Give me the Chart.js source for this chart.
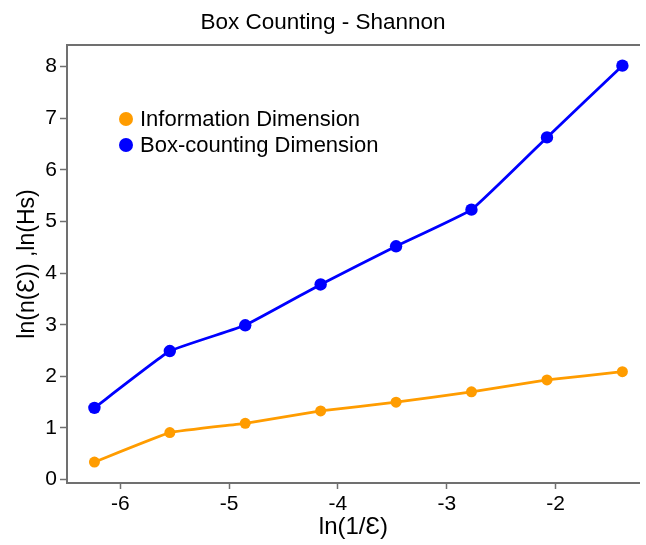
<!DOCTYPE html>
<html>
<head>
<meta charset="utf-8">
<script src="https://cdn.jsdelivr.net/npm/chart.js@4.4.1/dist/chart.umd.min.js"></script>
<style>
  html, body { margin: 0; padding: 0; background: #fff; }
  #wrap { width: 646px; height: 545px; position: relative; }
</style>
</head>
<body>
<div id="wrap"><canvas id="c"></canvas></div>
<script>
// ---- data ----
const lnInvEps = [-6.238, -5.545, -4.852, -4.159, -3.466, -2.773, -2.079, -1.386];
const informationDim = [0.34, 0.91, 1.09, 1.33, 1.50, 1.70, 1.93, 2.09];
const boxCountingDim = [1.39, 2.49, 2.99, 3.78, 4.52, 5.23, 6.63, 8.02];
const xTickValues = [-6, -5, -4, -3, -2];
const yTickValues = [0, 1, 2, 3, 4, 5, 6, 7, 8];
const seriesLabels = ['Information Dimension', 'Box-counting Dimension'];
const chartTitle = 'Box Counting - Shannon';
const xTitle = 'ln(1/Ɛ)';
const yTitle = 'ln(n(Ɛ)) ,ln(Hs)';

const FONT = "'Liberation Sans', Arial, Helvetica, sans-serif";
const AXIS_COLOR = '#707070';
const ORANGE = '#ff9c00';
const BLUE = '#0000ff';

const X_MIN = -6.49, X_MAX = -1.226;
const Y_MIN = -0.066, Y_MAX = 8.42;

const toPts = (ys) => ys.map((y, i) => ({ x: lnInvEps[i], y }));

// legend drawn inside the plot area (top-left)
const insideLegend = {
  id: 'insideLegend',
  afterDatasetsDraw(chart) {
    const { ctx, chartArea } = chart;
    const x0 = chartArea.left + 59;
    let y = chartArea.top + 74;
    ctx.save();
    ctx.font = '22px ' + FONT;
    ctx.textBaseline = 'middle';
    ctx.textAlign = 'left';
    chart.data.datasets.forEach(ds => {
      ctx.beginPath();
      ctx.fillStyle = ds.pointBackgroundColor;
      ctx.arc(x0, y, 7, 0, Math.PI * 2);
      ctx.fill();
      ctx.fillStyle = '#000';
      ctx.fillText(ds.label, x0 + 14, y + 1);
      y += 26;
    });
    ctx.restore();
  }
};

new Chart(document.getElementById('c'), {
  type: 'line',
  data: {
    datasets: [
      {
        label: seriesLabels[0],
        data: toPts(informationDim),
        borderColor: ORANGE,
        backgroundColor: ORANGE,
        pointBackgroundColor: ORANGE,
        pointBorderWidth: 0,
        pointRadius: 5.5,
        borderWidth: 2.8,
        tension: 0.1,
        fill: false
      },
      {
        label: seriesLabels[1],
        data: toPts(boxCountingDim),
        borderColor: BLUE,
        backgroundColor: BLUE,
        pointBackgroundColor: BLUE,
        pointBorderWidth: 0,
        pointRadius: 6.2,
        borderWidth: 2.8,
        tension: 0.1,
        fill: false
      }
    ]
  },
  options: {
    responsive: true,
    maintainAspectRatio: false,
    devicePixelRatio: 1,
    animation: false,
    layout: { padding: 0 },
    plugins: {
      legend: { display: false },
      tooltip: { enabled: false },
      title: {
        display: true,
        text: chartTitle,
        color: '#000',
        font: { family: FONT, size: 22.5, weight: 'normal', lineHeight: 1 },
        padding: { top: 12, bottom: 10.5 }
      }
    },
    scales: {
      x: {
        type: 'linear',
        position: 'bottom',
        min: X_MIN,
        max: X_MAX,
        afterBuildTicks: (s) => { s.ticks = xTickValues.map(v => ({ value: v })); },
        afterFit: (s) => { s.height = 62; },
        ticks: {
          color: '#000',
          font: { family: FONT, size: 21 },
          padding: 3,
          maxRotation: 0,
          callback: (v) => String(v)
        },
        grid: { display: true, drawOnChartArea: false, drawTicks: true, tickLength: 6, tickColor: AXIS_COLOR, tickWidth: 1.5 },
        border: { display: true, color: AXIS_COLOR, width: 2 },
        title: {
          display: true,
          text: xTitle,
          color: '#000',
          font: { family: FONT, size: 24 },
          padding: { top: 0, bottom: 3 }
        }
      },
      xTop: {
        type: 'linear',
        position: 'top',
        min: X_MIN,
        max: X_MAX,
        afterFit: (s) => { s.height = 0; },
        ticks: { display: false },
        grid: { display: false },
        border: { display: true, color: AXIS_COLOR, width: 2 }
      },
      y: {
        type: 'linear',
        min: Y_MIN,
        max: Y_MAX,
        afterBuildTicks: (s) => { s.ticks = yTickValues.map(v => ({ value: v })); },
        afterFit: (s) => { s.width = 67; },
        ticks: {
          color: '#000',
          font: { family: FONT, size: 21 },
          padding: 3,
          callback: (v) => String(v)
        },
        grid: { display: true, drawOnChartArea: false, drawTicks: true, tickLength: 7, tickColor: AXIS_COLOR, tickWidth: 1.5 },
        border: { display: true, color: AXIS_COLOR, width: 2 },
        title: {
          display: true,
          text: yTitle,
          color: '#000',
          font: { family: FONT, size: 23 },
          padding: { top: 14, bottom: 0 }
        }
      }
    }
  },
  plugins: [insideLegend]
});
</script>
</body>
</html>
